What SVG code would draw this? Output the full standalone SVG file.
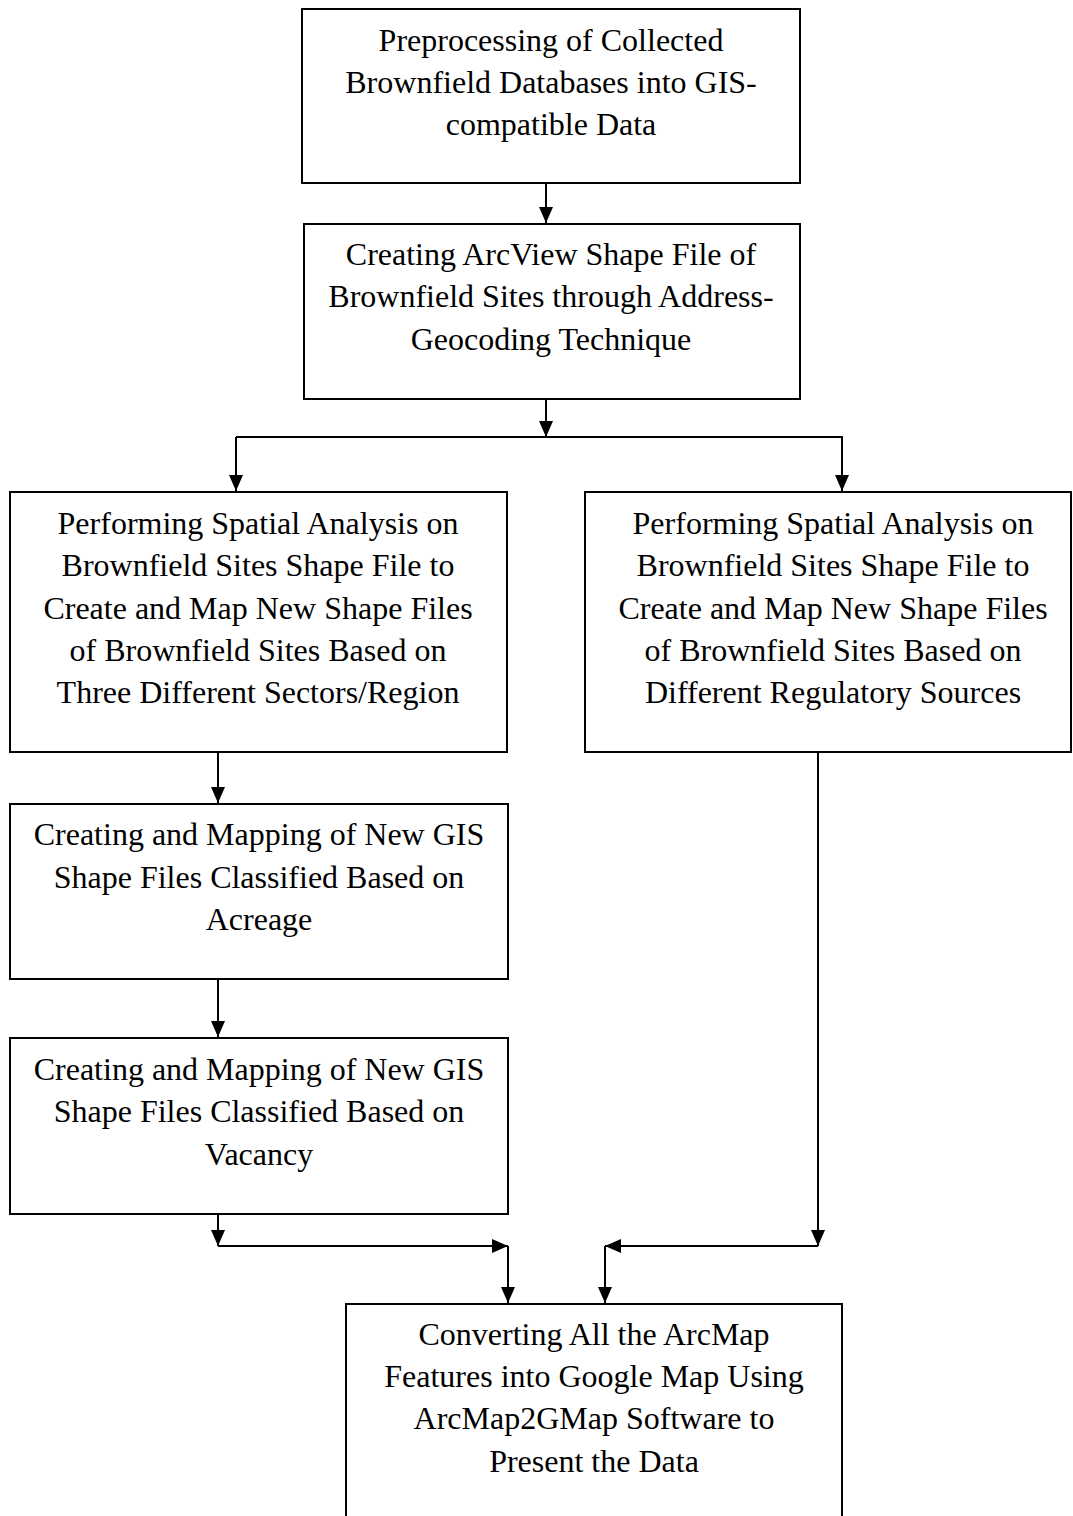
<svg xmlns="http://www.w3.org/2000/svg" width="1073" height="1516" viewBox="0 0 1073 1516">
<style>
.box{fill:#fff;stroke:#000;stroke-width:2}
.t{font-family:"Liberation Serif","Times New Roman",serif;font-size:32px;fill:#000;text-anchor:middle}
.c{fill:none;stroke:#000;stroke-width:2}
</style>
<defs>
<marker id="ah" viewBox="0 0 16 14" refX="16" refY="7" markerWidth="16" markerHeight="14" markerUnits="userSpaceOnUse" orient="auto">
<path d="M0,0 L16,7 L0,14 Z" fill="#000"/>
</marker>
</defs>
<rect width="1073" height="1516" fill="#fff"/>
<g id="n1">
<rect class="box" x="302" y="9" width="498" height="174"/>
<text class="t" x="551" y="51">Preprocessing of Collected</text>
<text class="t" x="551" y="93">Brownfield Databases into GIS-</text>
<text class="t" x="551" y="135">compatible Data</text>
</g>
<g id="n2">
<rect class="box" x="304" y="224" width="496" height="175"/>
<text class="t" x="551" y="265">Creating ArcView Shape File of</text>
<text class="t" x="551" y="307">Brownfield Sites through Address-</text>
<text class="t" x="551" y="350">Geocoding Technique</text>
</g>
<g id="n3">
<rect class="box" x="10" y="492" width="497" height="260"/>
<text class="t" x="258" y="534">Performing Spatial Analysis on</text>
<text class="t" x="258" y="576">Brownfield Sites Shape File to</text>
<text class="t" x="258" y="619">Create and Map New Shape Files</text>
<text class="t" x="258" y="661">of Brownfield Sites Based on</text>
<text class="t" x="258" y="703">Three Different Sectors/Region</text>
</g>
<g id="n4">
<rect class="box" x="585" y="492" width="486" height="260"/>
<text class="t" x="833" y="534">Performing Spatial Analysis on</text>
<text class="t" x="833" y="576">Brownfield Sites Shape File to</text>
<text class="t" x="833" y="619">Create and Map New Shape Files</text>
<text class="t" x="833" y="661">of Brownfield Sites Based on</text>
<text class="t" x="833" y="703">Different Regulatory Sources</text>
</g>
<g id="n5">
<rect class="box" x="10" y="804" width="498" height="175"/>
<text class="t" x="259" y="845">Creating and Mapping of New GIS</text>
<text class="t" x="259" y="888">Shape Files Classified Based on</text>
<text class="t" x="259" y="930">Acreage</text>
</g>
<g id="n6">
<rect class="box" x="10" y="1038" width="498" height="176"/>
<text class="t" x="259" y="1080">Creating and Mapping of New GIS</text>
<text class="t" x="259" y="1122">Shape Files Classified Based on</text>
<text class="t" x="259" y="1165">Vacancy</text>
</g>
<g id="n7">
<rect class="box" x="346" y="1304" width="496" height="230"/>
<text class="t" x="594" y="1345">Converting All the ArcMap</text>
<text class="t" x="594" y="1387">Features into Google Map Using</text>
<text class="t" x="594" y="1429">ArcMap2GMap Software to</text>
<text class="t" x="594" y="1472">Present the Data</text>
</g>
<g id="connectors">
<line class="c" x1="546" y1="183" x2="546" y2="223" marker-end="url(#ah)"/>
<line class="c" x1="546" y1="399" x2="546" y2="437" marker-end="url(#ah)"/>
<polyline class="c" points="236,437 842,437 842,491" marker-end="url(#ah)"/>
<line class="c" x1="236" y1="437" x2="236" y2="491" marker-end="url(#ah)"/>
<line class="c" x1="218" y1="752" x2="218" y2="803" marker-end="url(#ah)"/>
<line class="c" x1="218" y1="979" x2="218" y2="1037" marker-end="url(#ah)"/>
<line class="c" x1="218" y1="1214" x2="218" y2="1246" marker-end="url(#ah)"/>
<line class="c" x1="218" y1="1246" x2="508" y2="1246" marker-end="url(#ah)"/>
<line class="c" x1="508" y1="1246" x2="508" y2="1303" marker-end="url(#ah)"/>
<line class="c" x1="818" y1="752" x2="818" y2="1246" marker-end="url(#ah)"/>
<line class="c" x1="818" y1="1246" x2="605" y2="1246" marker-end="url(#ah)"/>
<line class="c" x1="605" y1="1246" x2="605" y2="1303" marker-end="url(#ah)"/>
</g>
</svg>
